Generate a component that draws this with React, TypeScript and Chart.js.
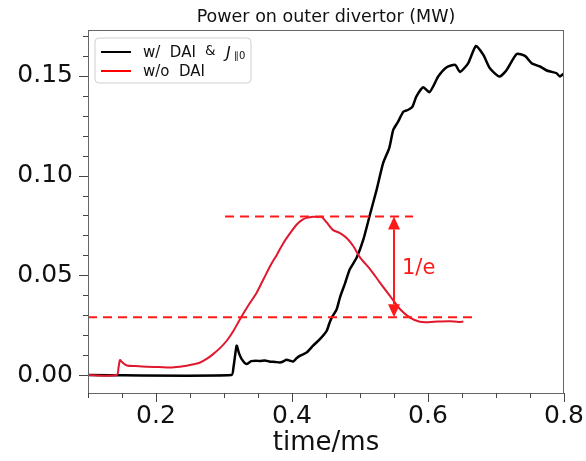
import React, { useEffect, useRef } from "react";
import { Chart, registerables } from "chart.js";

Chart.register(...registerables);

// ---------- data ----------
const RED_T = [
  0.1, 0.142, 0.145, 0.147, 0.15, 0.157, 0.17, 0.186, 0.205, 0.221, 0.235, 0.245, 0.255, 0.265, 0.275,
  0.284, 0.294, 0.304, 0.314, 0.3235, 0.335, 0.348, 0.358, 0.368, 0.378, 0.387, 0.397, 0.407, 0.415,
  0.4215, 0.431, 0.437, 0.4435, 0.451, 0.46, 0.4706, 0.48, 0.49, 0.5, 0.515, 0.529, 0.544, 0.559,
  0.5735, 0.588, 0.6, 0.615, 0.632, 0.645, 0.652,
];
const RED_P = [
  0, 0, 0.004, 0.0075, 0.0065, 0.0048, 0.0045, 0.0042, 0.004, 0.0038, 0.0042, 0.0047, 0.0054, 0.0063,
  0.0082, 0.0105, 0.0135, 0.0172, 0.0222, 0.028, 0.0345, 0.0413, 0.048, 0.0547, 0.0605, 0.066, 0.071,
  0.0755, 0.0778, 0.0788, 0.0794, 0.0792, 0.0793, 0.0765, 0.0728, 0.0712, 0.0688, 0.0647, 0.059, 0.053,
  0.0465, 0.0397, 0.033, 0.0288, 0.0267, 0.0265, 0.0268, 0.027, 0.0266, 0.0268,
];
const BLACK_T = [
  0.1, 0.311, 0.314, 0.3186, 0.322, 0.326, 0.333, 0.34, 0.347, 0.353, 0.36, 0.368, 0.375, 0.382, 0.387,
  0.392, 0.397, 0.4015, 0.407, 0.412, 0.4215, 0.431, 0.441, 0.451, 0.455, 0.4584, 0.4657, 0.4706, 0.478,
  0.485, 0.495, 0.505, 0.5147, 0.5245, 0.534, 0.543, 0.549, 0.556, 0.5637, 0.571, 0.577, 0.583, 0.593,
  0.602, 0.608, 0.615, 0.6275, 0.64, 0.647, 0.659, 0.6706, 0.6814, 0.691, 0.705, 0.7157, 0.7304, 0.7426,
  0.7525, 0.7647, 0.7745, 0.782, 0.789, 0.794, 0.799, 0.8,
];
const BLACK_P = [
  0, 0, 0.004, 0.0147, 0.011, 0.008, 0.0055, 0.007, 0.0072, 0.007, 0.0073, 0.0067, 0.0066, 0.0063, 0.0068,
  0.0077, 0.0072, 0.0068, 0.0085, 0.0097, 0.0113, 0.0147, 0.018, 0.0222, 0.026, 0.0288, 0.033, 0.039, 0.046,
  0.053, 0.0588, 0.068, 0.0805, 0.093, 0.1063, 0.1138, 0.123, 0.127, 0.132, 0.133, 0.1345, 0.1397, 0.1443,
  0.1418, 0.145, 0.1497, 0.1543, 0.1555, 0.152, 0.1563, 0.165, 0.1605, 0.1538, 0.1497, 0.153, 0.161, 0.16,
  0.1563, 0.1547, 0.1527, 0.152, 0.1513, 0.1497, 0.151, 0.1505,
];

const X_RANGE = [0.1, 0.8];
const Y_RANGE = [-0.009, 0.173];
const X_MAJOR = [0.2, 0.4, 0.6, 0.8];
const Y_MAJOR = [0.0, 0.05, 0.1, 0.15];
const X_MINOR_STEP = 0.05;
const Y_MINOR_STEP = 0.01;

const UPPER_LEVEL = 0.0795;
const UPPER_SPAN = [0.3015, 0.578];
const LOWER_LEVEL = 0.029;
const LOWER_SPAN = [0.1, 0.6735];
const ARROW_T = 0.55;
const ARROW_LABEL = "1/e";

const TITLE = "Power on outer divertor (MW)";
const X_TITLE = "time/ms";
const LEGEND_BLACK = "w/  DAI";
const LEGEND_RED = "w/o  DAI";

const BLACK = "#000000";
const RED = "#e0182d";
const DASH_RED = "#ff1a1a";
const FONT = "'DejaVu Sans', sans-serif";

function zip(t: number[], p: number[]) {
  return t.map((x, i) => ({ x, y: p[i] }));
}

function stepValues(min: number, max: number, step: number) {
  const out: number[] = [];
  for (let i = Math.ceil(min / step - 1e-9); i * step <= max + 1e-9; i++) out.push(i * step);
  return out;
}

const decorPlugin = {
  id: "decor",
  afterDraw(chart: any) {
    const ctx = chart.ctx as CanvasRenderingContext2D;
    const { left, right, top, bottom } = chart.chartArea;
    const xs = chart.scales.x;
    const ys = chart.scales.y;
    ctx.save();

    // frame
    ctx.strokeStyle = "#666";
    ctx.lineWidth = 1;
    ctx.strokeRect(left + 0.5, top + 0.5, right - left - 1, bottom - top);

    // ticks
    ctx.strokeStyle = "#444";
    ctx.beginPath();
    const xMin = stepValues(X_RANGE[0], X_RANGE[1], X_MINOR_STEP);
    xMin.forEach((v) => {
      const px = Math.round(xs.getPixelForValue(v)) + 0.5;
      const major = X_MAJOR.some((m) => Math.abs(m - v) < 1e-6);
      ctx.moveTo(px, bottom);
      ctx.lineTo(px, bottom + (major ? 9 : 5));
    });
    const yMin = stepValues(Y_RANGE[0], Y_RANGE[1], Y_MINOR_STEP);
    yMin.forEach((v) => {
      const py = Math.round(ys.getPixelForValue(v)) + 0.5;
      const major = Y_MAJOR.some((m) => Math.abs(m - v) < 1e-6);
      ctx.moveTo(left, py);
      ctx.lineTo(left - (major ? 9 : 5), py);
    });
    ctx.stroke();

    // title
    ctx.fillStyle = "#111";
    ctx.font = `17.5px ${FONT}`;
    ctx.textAlign = "center";
    ctx.textBaseline = "alphabetic";
    ctx.fillText(TITLE, (left + right) / 2, 22);

    // x title
    ctx.font = `26px ${FONT}`;
    ctx.fillText(X_TITLE, (left + right) / 2, 450);

    // arrow
    const ax = xs.getPixelForValue(ARROW_T);
    const ay1 = ys.getPixelForValue(UPPER_LEVEL);
    const ay2 = ys.getPixelForValue(LOWER_LEVEL);
    const hl = 13;
    const hw = 6;
    ctx.strokeStyle = DASH_RED;
    ctx.fillStyle = DASH_RED;
    ctx.lineWidth = 2;
    ctx.beginPath();
    ctx.moveTo(ax, ay1 + hl);
    ctx.lineTo(ax, ay2 - hl);
    ctx.stroke();
    ctx.beginPath();
    ctx.moveTo(ax, ay1);
    ctx.lineTo(ax - hw, ay1 + hl);
    ctx.lineTo(ax + hw, ay1 + hl);
    ctx.closePath();
    ctx.fill();
    ctx.beginPath();
    ctx.moveTo(ax, ay2);
    ctx.lineTo(ax - hw, ay2 - hl);
    ctx.lineTo(ax + hw, ay2 - hl);
    ctx.closePath();
    ctx.fill();
    ctx.font = `21px ${FONT}`;
    ctx.textAlign = "left";
    ctx.textBaseline = "middle";
    ctx.fillText(ARROW_LABEL, ax + 8, (ay1 + ay2) / 2 + 2);

    // legend
    const bx = 95, by = 38, bw = 156, bh = 45, r = 4;
    ctx.beginPath();
    ctx.moveTo(bx + r, by);
    ctx.arcTo(bx + bw, by, bx + bw, by + bh, r);
    ctx.arcTo(bx + bw, by + bh, bx, by + bh, r);
    ctx.arcTo(bx, by + bh, bx, by, r);
    ctx.arcTo(bx, by, bx + bw, by, r);
    ctx.closePath();
    ctx.fillStyle = "rgba(255,255,255,0.85)";
    ctx.fill();
    ctx.strokeStyle = "#d0d0d0";
    ctx.lineWidth = 1;
    ctx.stroke();

    ctx.lineWidth = 2;
    ctx.strokeStyle = BLACK;
    ctx.beginPath();
    ctx.moveTo(101, 52);
    ctx.lineTo(131, 52);
    ctx.stroke();
    ctx.strokeStyle = "#ff0000";
    ctx.beginPath();
    ctx.moveTo(101, 71);
    ctx.lineTo(131, 71);
    ctx.stroke();

    ctx.fillStyle = "#111";
    ctx.textAlign = "left";
    ctx.textBaseline = "alphabetic";
    ctx.font = `15px ${FONT}`;
    ctx.fillText(LEGEND_BLACK, 143, 57);
    ctx.fillText(LEGEND_RED, 143, 76);
    ctx.font = `13.5px ${FONT}`;
    ctx.fillText("&", 205, 55);
    ctx.font = `italic 16px ${FONT}`;
    ctx.fillText("J", 226, 58);
    ctx.font = `10px ${FONT}`;
    ctx.fillText("\u2225", 234, 59);
    ctx.fillText("0", 239, 59);

    ctx.restore();
  },
};

export default function App() {
  const ref = useRef<HTMLCanvasElement | null>(null);
  useEffect(() => {
    document.body.style.margin = "0";
    const canvas = ref.current;
    if (!canvas) return;
    const chart = new Chart(canvas, {
      type: "line",
      data: {
        datasets: [
          {
            label: "upper",
            data: [
              { x: UPPER_SPAN[0], y: UPPER_LEVEL },
              { x: UPPER_SPAN[1], y: UPPER_LEVEL },
            ],
            borderColor: DASH_RED,
            borderWidth: 2,
            borderDash: [9, 6],
            pointRadius: 0,
          },
          {
            label: "lower",
            data: [
              { x: LOWER_SPAN[0], y: LOWER_LEVEL },
              { x: LOWER_SPAN[1], y: LOWER_LEVEL },
            ],
            borderColor: DASH_RED,
            borderWidth: 2,
            borderDash: [9, 6],
            pointRadius: 0,
          },
          {
            label: "w/o DAI",
            data: zip(RED_T, RED_P),
            borderColor: RED,
            borderWidth: 2,
            pointRadius: 0,
            tension: 0.3,
          },
          {
            label: "w/ DAI & J",
            data: zip(BLACK_T, BLACK_P),
            borderColor: BLACK,
            borderWidth: 2.5,
            pointRadius: 0,
            tension: 0.2,
          },
        ],
      },
      options: {
        animation: false,
        responsive: false,
        devicePixelRatio: 1,
        layout: { padding: { top: 30, right: 22, left: 0, bottom: 0 } },
        plugins: {
          legend: { display: false },
          tooltip: { enabled: false },
          title: { display: false },
        },
        scales: {
          x: {
            type: "linear",
            min: X_RANGE[0],
            max: X_RANGE[1],
            grid: { display: false, drawTicks: false },
            border: { display: false },
            ticks: {
              font: { family: FONT, size: 25 },
              color: "#111",
              padding: 8,
              maxRotation: 0,
              autoSkip: false,
              callback: (v: any) => Number(v).toFixed(1),
            },
            afterBuildTicks: (s: any) => {
              s.ticks = X_MAJOR.map((v) => ({ value: v }));
            },
            afterFit: (s: any) => {
              s.height = 68;
              s.paddingLeft = 0;
              s.paddingRight = 0;
            },
          },
          y: {
            type: "linear",
            min: Y_RANGE[0],
            max: Y_RANGE[1],
            grid: { display: false, drawTicks: false },
            border: { display: false },
            ticks: {
              font: { family: FONT, size: 25 },
              color: "#111",
              padding: 15,
              autoSkip: false,
              callback: (v: any) => Number(v).toFixed(2),
            },
            afterBuildTicks: (s: any) => {
              s.ticks = Y_MAJOR.map((v) => ({ value: v }));
            },
            afterFit: (s: any) => {
              s.width = 88;
              s.paddingTop = 0;
              s.paddingBottom = 0;
            },
          },
        },
      },
      plugins: [decorPlugin],
    });
    return () => chart.destroy();
  }, []);
  return (
    <div style={{ width: 586, height: 461, background: "#fff" }}>
      <canvas ref={ref} width={586} height={461} style={{ display: "block" }} />
    </div>
  );
}
